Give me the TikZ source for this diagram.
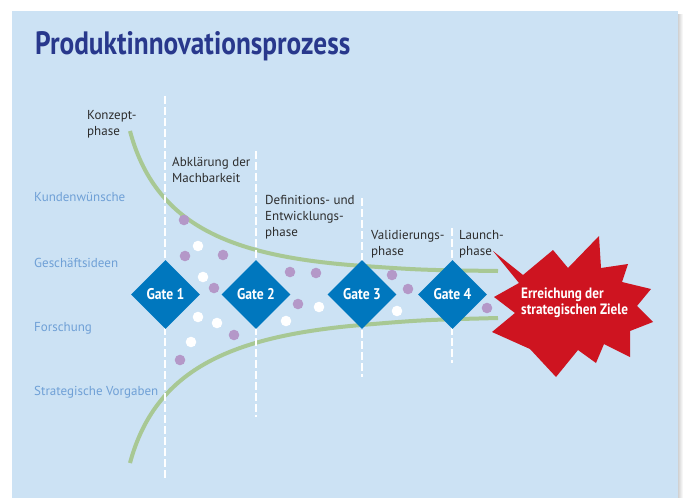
\documentclass[tikz,border=0pt]{standalone}
\usepackage{fontspec}
\usepackage{graphicx}
\setmainfont{PT Sans}
\newfontfamily\condfont[FakeStretch=0.88]{PT Sans}
\usetikzlibrary{shapes.geometric}

\definecolor{panelblue}{RGB}{204,226,244}
\definecolor{titleblue}{RGB}{40,56,140}
\definecolor{labelblue}{RGB}{111,160,214}
\definecolor{gateblue}{RGB}{0,119,190}
\definecolor{goalred}{RGB}{206,20,32}
\definecolor{curvegreen}{RGB}{168,200,148}
\definecolor{dotpurple}{RGB}{180,152,200}
\definecolor{textgray}{RGB}{45,45,45}

\tikzset{
    phase/.style={anchor=base west, inner sep=0pt, align=left, text=textgray,
        font=\fontsize{13}{16}\selectfont},
    source/.style={anchor=base west, inner sep=0pt, text=labelblue,
        font=\fontsize{13}{16}\selectfont},
    gate/.style={diamond, fill=gateblue, text=white, inner sep=0pt,
        minimum width=69pt, minimum height=69pt,
        font=\condfont\bfseries\fontsize{15.5}{16}\selectfont},
    gateline/.style={white, line width=1.6pt, dash pattern=on 8pt off 3pt},
    funnel/.style={curvegreen, line width=4pt},
}

\begin{document}
\begin{tikzpicture}[x=1pt, y=-1pt]
        \useasboundingbox (0,0) rectangle (683,498);
        \fill[white] (0,0) rectangle (683,498);
        \shade[left color=black!18, right color=white] (678,14) rectangle (683,498);
        \fill[panelblue] (12,11) rectangle (678,498);

        \node[anchor=base west, inner sep=0pt, text=titleblue] (title) at (35,54)
            {\resizebox{315pt}{23pt}{\bfseries Produktinnovationsprozess}};

        % funnel
        \draw[funnel] (130,131) .. controls (155,225) and (230,255) .. (350,265)
            .. controls (420,270) .. (498,271);
        \draw[funnel] (130,463) .. controls (155,370) and (230,338) .. (350,326)
            .. controls (420,320) .. (498,318);

        % gate lines
        \foreach \x/\top/\bot in {165/96/480, 256/151/417, 362/198/377, 452/228/363}
            \draw[gateline] (\x,\top) -- (\x,\bot);

        % ideas
        \foreach \p in {(184,220),(185,256),(223,255),(214,288),(234,335),(290,272),
                (316,273),(298,304),(180,360),(392,275),(408,289),(487,308)}
            \fill[dotpurple] \p circle (5.3);
        \foreach \p in {(198,246),(203,277),(198,317),(217,323),(191,342),(319,307),
                (286,321),(397,311)}
            \fill[white] \p circle (5.3);

        \node[gate] (gate1) at (165.5,294.5) {Gate 1};
        \node[gate] (gate2) at (256,294.5) {Gate 2};
        \node[gate] (gate3) at (362,294.5) {Gate 3};
        \node[gate] (gate4) at (452.5,294.5) {Gate 4};

        % goal
        \fill[goalred] (493,251) -- (523,275) -- (553,250) -- (568,268) -- (599,236)
            -- (601,268) -- (628,264) -- (622,282) -- (651,289) -- (637,306)
            -- (653,322) -- (630,331) -- (630,357) -- (604,344) -- (596,363)
            -- (578,350) -- (556,377) -- (530,349) -- (492,332) -- (515,313)
            -- (494,297) -- (519,283) -- cycle;
        \node[anchor=base west, inner sep=0pt, align=left, text=white,
            font=\condfont\bfseries\fontsize{15}{16}\selectfont] (goal) at (521,314.5)
            {Erreichung der\\strategischen Ziele};

        % phases (base = last line)
        \node[phase] (concept) at (87,135) {Konzept-\\phase};
        \node[phase] (feasible) at (172,182.5) {Abklärung der\\Machbarkeit};
        \node[phase] (develop) at (265,236) {Definitions- und\\Entwicklungs-\\phase};
        \node[phase] (validate) at (371,255) {Validierungs-\\phase};
        \node[phase] (launch) at (459,255) {Launch-\\phase};

        % sources
        \node[source] (wishes) at (34,201.5) {Kundenwünsche};
        \node[source] (ideas) at (34,267) {Geschäftsideen};
        \node[source] (research) at (34,331.5) {Forschung};
        \node[source] (strategy) at (34,395.5) {Strategische Vorgaben};
    \end{tikzpicture}
\end{document}
